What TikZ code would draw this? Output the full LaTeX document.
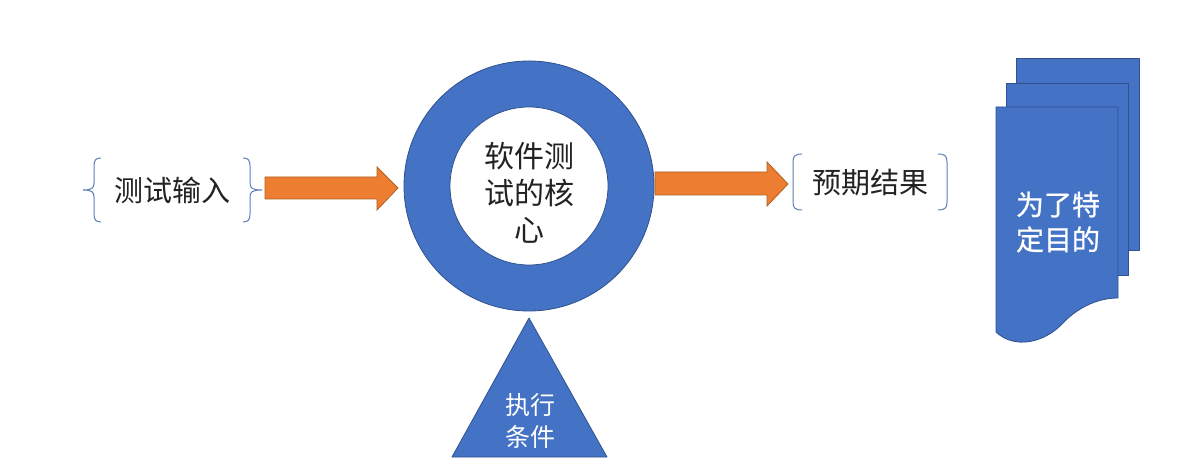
\documentclass[tikz,border=0pt]{standalone}
\usepackage{fontspec}
\newfontfamily\cjk{Noto Sans CJK SC}
\newfontfamily\cjkmed{Noto Sans CJK SC}[FakeBold=0.8]
\definecolor{ublue}{HTML}{4472C4}
\definecolor{ubluedark}{HTML}{2F528F}
\definecolor{uorange}{HTML}{ED7D31}
\definecolor{uorangedark}{HTML}{B0601F}
\definecolor{utext}{HTML}{222222}
\definecolor{ubrace}{HTML}{5B7DB8}
\begin{document}
\begin{tikzpicture}[x=1pt,y=-1pt,
  shapefill/.style={fill=ublue, draw=ubluedark, line width=0.8pt, line join=round},
  blockarrow/.style={fill=uorange, draw=uorangedark, line width=0.8pt, line join=miter},
  bracestyle/.style={draw=ubrace, line width=1pt},
  labeltext/.style={font=\cjk\fontsize{29}{36}\selectfont, text=utext, inner sep=0pt, align=center},
  coretext/.style={font=\cjk\fontsize{30}{37}\selectfont, text=utext, inner sep=0pt, align=center},
  doctext/.style={font=\cjkmed\fontsize{28}{35}\selectfont, text=white, inner sep=0pt, align=center},
  tritext/.style={font=\cjk\fontsize{25}{32}\selectfont, text=white, inner sep=0pt, align=center}]
\useasboundingbox[fill=white] (0,0) rectangle (1202,470);

% ring
\node[circle, shapefill, minimum size=250pt, inner sep=0pt] (ring) at (529,186) {};
\node[circle, fill=white, draw=ubluedark, line width=0.8pt, minimum size=158pt, inner sep=0pt] (hole) at (ring.center) {};
\node[coretext] (core) at (529,193) {软件测\\试的核\\心};

% left input
\node[labeltext] (input) at (172,190) {测试输入};
\draw[bracestyle] (101,158) .. controls (96,158) and (94,160) .. (94,166) -- (94,183)
  .. controls (94,188) and (92,190) .. (83,190)
  .. controls (92,190) and (94,192) .. (94,197) -- (94,214)
  .. controls (94,220) and (96,222) .. (101,222);
\draw[bracestyle] (243,158) .. controls (248,158) and (250,160) .. (250,166) -- (250,183)
  .. controls (250,188) and (252,190) .. (262,190)
  .. controls (252,190) and (250,192) .. (250,197) -- (250,214)
  .. controls (250,220) and (248,222) .. (243,222);

% arrows
\draw[blockarrow] (265,177) -- (377,177) -- (377,167) -- (398,188) -- (377,210) -- (377,199) -- (265,199) -- cycle;
\draw[blockarrow] (655,172) -- (767,172) -- (767,162) -- (788,184) -- (767,206) -- (767,195) -- (655,195) -- cycle;

% right output
\node[labeltext] (output) at (870,183) {预期结果};
\draw[bracestyle] (802,154) .. controls (795,154) and (793,156) .. (793,162) -- (793,202)
  .. controls (793,208) and (795,210) .. (802,210);
\draw[bracestyle] (938,154) .. controls (945,154) and (947,156) .. (947,162) -- (947,202)
  .. controls (947,208) and (945,210) .. (938,210);

% triangle
\draw[shapefill] (529,318) -- (607,457) -- (452,457) -- cycle;
\node[tritext] (cond) at (530,421) {执行\\条件};

% documents
\draw[shapefill] (1016,58) rectangle (1139,250);
\draw[shapefill] (1006,83) rectangle (1128,275);
\draw[shapefill] (996,107) -- (1118,107) -- (1118,298)
  .. controls (1095,298) and (1075,310) .. (1062,324)
  .. controls (1045,342) and (1015,350) .. (996,332) -- cycle;
\node[doctext] (purpose) at (1058,222) {为了特\\定目的};
\end{tikzpicture}
\end{document}
